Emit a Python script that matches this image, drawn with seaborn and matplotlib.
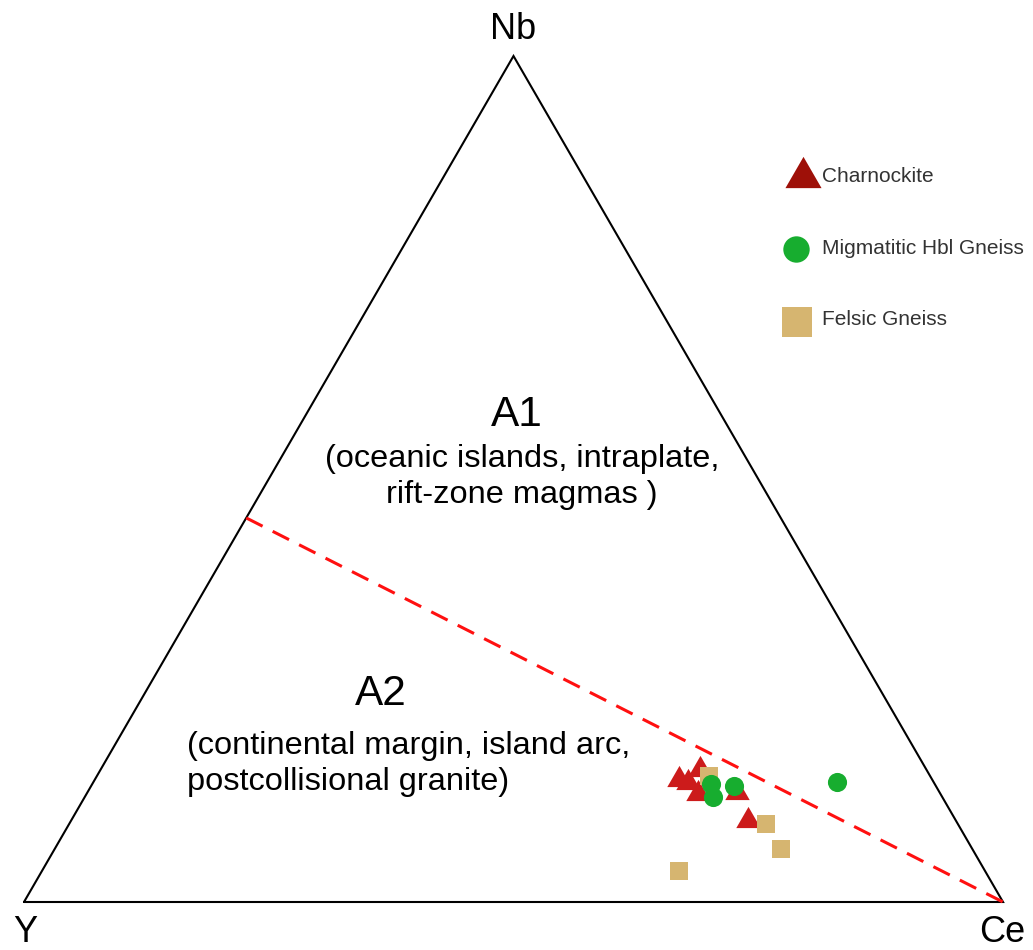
import numpy as np
import pandas as pd
import matplotlib
matplotlib.use("Agg")
import matplotlib.pyplot as plt
import seaborn as sns

# Ternary compositions (fractions) for each lithology: Nb, Y, Ce
charnockite_nb = [0.149, 0.145, 0.161, 0.132, 0.134, 0.101]
charnockite_ce = [0.595, 0.606, 0.610, 0.622, 0.661, 0.689]

gneiss_hbl_nb = [0.140, 0.124, 0.137, 0.142]
gneiss_hbl_ce = [0.632, 0.642, 0.657, 0.759]

felsic_nb = [0.149, 0.092, 0.063, 0.037]
felsic_ce = [0.625, 0.712, 0.742, 0.651]

groups = ["Charnockite", "Migmatitic Hbl Gneiss", "Felsic Gneiss"]

# Field boundary A1 / A2: from the Y–Nb edge to the Ce apex
boundary_nb = [0.454, 0.0]
boundary_ce = [0.0, 1.0]

vertex_labels = ["Nb", "Y", "Ce"]


def to_xy(nb, ce):
    nb = np.asarray(nb, dtype=float)
    ce = np.asarray(ce, dtype=float)
    return ce + nb / 2.0, nb


sns.set_theme(style="white")
plt.rcParams["font.family"] = ["Liberation Sans", "DejaVu Sans"]

W, H = 1033, 950
fig = plt.figure(figsize=(W / 100, H / 100), dpi=100)
ax = fig.add_axes([0, 0, 1, 1])
ax.set_xlim(-24 / 979, (W - 24) / 979)
ax.set_ylim(-48 / 846, (H - 48) / 846)
ax.axis("off")

# Outer triangle
tri_nb = [0, 0, 1, 0]
tri_ce = [0, 1, 0, 0]
tx, ty = to_xy(tri_nb, tri_ce)
ax.plot(tx, ty, color="black", lw=1.5, solid_joinstyle="miter", zorder=2)

# Dashed boundary
bx, by = to_xy(boundary_nb, boundary_ce)
ax.plot(bx, by, color="#ff1010", lw=2.2, dashes=(6, 3.7), zorder=2)

# Data points
tri_marker = [(-1, -0.866), (1, -0.866), (0, 0.866)]
frames = []
for name, nb, ce in [(groups[0], charnockite_nb, charnockite_ce),
                     (groups[1], gneiss_hbl_nb, gneiss_hbl_ce),
                     (groups[2], felsic_nb, felsic_ce)]:
    x, y = to_xy(nb, ce)
    frames.append(pd.DataFrame({"x": x, "y": y, "group": name}))
df = pd.concat(frames, ignore_index=True)

styles = {
    groups[0]: dict(marker=tri_marker, color="#cc1b1b", s=310, z=3),
    groups[2]: dict(marker="s", color="#d6b570", s=172, z=4),
    groups[1]: dict(marker="o", color="#17ad2f", s=190, z=5),
}
for name in [groups[0], groups[2], groups[1]]:
    st = styles[name]
    sns.scatterplot(data=df[df.group == name], x="x", y="y", marker=st["marker"],
                    color=st["color"], s=st["s"], linewidth=0, ax=ax,
                    zorder=st["z"], legend=False)

# Vertex labels
ax.text(513 / W, 1 - 39 / H, vertex_labels[0], transform=fig.transFigure,
        ha="center", va="baseline", fontsize=26, color="black")
ax.text(25 / W, 1 - 942 / H, vertex_labels[1], transform=fig.transFigure,
        ha="center", va="baseline", fontsize=26, color="black")
ax.text(1002 / W, 1 - 942 / H, vertex_labels[2], transform=fig.transFigure,
        ha="center", va="baseline", fontsize=26, color="black")

# Field labels
ax.text(517 / W, 1 - 415 / H, "A1", transform=fig.transFigure,
        ha="center", va="center", fontsize=30.5, color="black")
ax.text(522 / W, 1 - 477 / H,
        "(oceanic islands, intraplate,\nrift-zone magmas )",
        transform=fig.transFigure, ha="center", va="center",
        fontsize=23.4, linespacing=1.25, color="black")
ax.text(381 / W, 1 - 694 / H, "A2", transform=fig.transFigure,
        ha="center", va="center", fontsize=30.5, color="black")
ax.text(187 / W, 1 - 764 / H,
        "(continental margin, island arc,\npostcollisional granite)",
        transform=fig.transFigure, ha="left", va="center",
        fontsize=23.4, linespacing=1.25, color="black")

# Legend
legend_rows = [
    (groups[0], tri_marker, "#9e1008", 26, 172, 803),
    (groups[1], "o", "#17ad2f", 19, 249, 796),
    (groups[2], "s", "#d6b570", 21, 322, 797),
]
for label, mk, col, msize, py, px in legend_rows:
    ax.plot([px / W], [1 - py / H], marker=mk, color=col, markersize=msize,
            linestyle="none", markeredgewidth=0, transform=fig.transFigure)
for label, ty_px in [(groups[0], 176), (groups[1], 249), (groups[2], 320)]:
    ax.text(822 / W, 1 - ty_px / H, label, transform=fig.transFigure,
            ha="left", va="center", fontsize=15, color="#333333")

fig.savefig("out.png", dpi=100)
